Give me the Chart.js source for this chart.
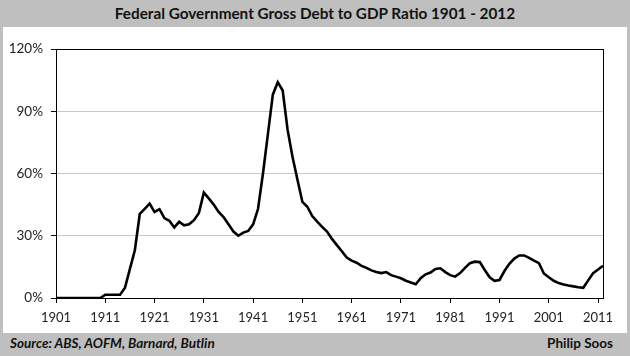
<!DOCTYPE html>
<html>
<head>
<meta charset="utf-8">
<script src="https://cdn.jsdelivr.net/npm/chart.js@4/dist/chart.umd.min.js"></script>
<style>
  html, body { margin:0; padding:0; }
  body { width:630px; height:356px; background:#bfbfbf; position:relative; overflow:hidden; font-family: Lato, "Open Sans", sans-serif; }
  #title { position:absolute; left:0; top:4px; width:630px; text-align:center; font-weight:bold; font-size:15.3px; color:#111; }
  #panel { position:absolute; left:3px; top:27px; width:624px; height:306px; background:#fff; }
  #src { position:absolute; left:10px; top:335px; font-size:13.5px; font-weight:bold; font-style:italic; color:#111; }
  #auth { position:absolute; right:17px; top:335px; font-size:13.5px; font-weight:bold; color:#111; }
</style>
</head>
<body>
<div id="title">Federal Government Gross Debt to GDP Ratio 1901 - 2012</div>
<div id="panel"><canvas id="c" width="624" height="306"></canvas></div>
<div id="src">Source: ABS, AOFM, Barnard, Butlin</div>
<div id="auth">Philip Soos</div>
<script>
const years = Array.from({length: 112}, (_, i) => 1901 + i);
const debtRatio = [
  0, 0, 0, 0, 0, 0, 0, 0, 0, 0,
  1.6, 1.6, 1.6, 1.6, 5, 14, 23, 40.5, 43, 45.5,
  41.5, 42.8, 38.5, 37.2, 34, 36.7, 35, 35.5, 37.5, 41,
  50.8, 48, 45, 41.5, 39, 35.5, 32, 30, 31.5, 32.3,
  35.5, 43, 60, 79, 98, 104, 100, 81, 68, 57,
  46.3, 44, 39.5, 36.8, 34.3, 32, 28.5, 25.5, 22.5, 19.5,
  18, 17, 15.5, 14.5, 13.3, 12.5, 12, 12.5, 11, 10.3,
  9.5, 8.3, 7.5, 6.6, 9.5, 11.4, 12.3, 14, 14.3, 12.5,
  11, 10.3, 12, 14.5, 16.8, 17.5, 17.3, 13.5, 10, 8.3,
  8.7, 13, 16.5, 19, 20.5, 20.5, 19.3, 18, 16.8, 11.8,
  10, 8.3, 7.2, 6.5, 6, 5.6, 5.2, 4.9, 8.5, 12,
  13.7, 15.5
];
const xTickYears = [1901, 1911, 1921, 1931, 1941, 1951, 1961, 1971, 1981, 1991, 2001, 2011];
const yTickValues = [0, 30, 60, 90, 120];

const borderPlugin = {
  id: 'plotBorder',
  afterDraw(chart) {
    const a = chart.chartArea, ctx = chart.ctx;
    ctx.save();
    ctx.strokeStyle = '#000';
    ctx.lineWidth = 1;
    ctx.strokeRect(Math.round(a.left) + 0.5, Math.round(a.top) + 0.5, Math.round(a.right - a.left), Math.round(a.bottom - a.top));
    ctx.restore();
  }
};

new Chart(document.getElementById('c'), {
  type: 'line',
  data: {
    datasets: [{
      data: years.map((y, i) => ({x: y, y: debtRatio[i]})),
      borderColor: '#000',
      borderWidth: 2.6,
      pointRadius: 0,
      tension: 0,
      fill: false
    }]
  },
  options: {
    responsive: false,
    animation: false,
    layout: { padding: { left: 0, right: 24, top: 22, bottom: 0 } },
    plugins: { legend: { display: false }, tooltip: { enabled: false } },
    scales: {
      x: {
        type: 'linear',
        min: 1901, max: 2012,
        afterBuildTicks: (s) => { s.ticks = xTickYears.map(v => ({value: v})); },
        afterFit: (s) => { s.height = 35; },
        grid: { drawOnChartArea: false, drawTicks: true, tickLength: 5, tickColor: '#000' },
        border: { color: '#000', width: 1 },
        ticks: { color: '#222', font: { family: 'Lato', size: 13 }, padding: 7, maxRotation: 0, autoSkip: false, callback: (v) => String(v) }
      },
      y: {
        min: 0, max: 120,
        afterBuildTicks: (s) => { s.ticks = yTickValues.map(v => ({value: v})); },
        afterFit: (s) => { s.width = 53; },
        grid: { color: '#c8c8c8', lineWidth: 1, tickLength: 5, tickColor: '#000' },
        border: { color: '#000', width: 1 },
        ticks: { color: '#222', font: { family: 'Lato', size: 13.5 }, padding: 8, callback: (v) => v + '%' }
      }
    }
  },
  plugins: [borderPlugin]
});
</script>
</body>
</html>
